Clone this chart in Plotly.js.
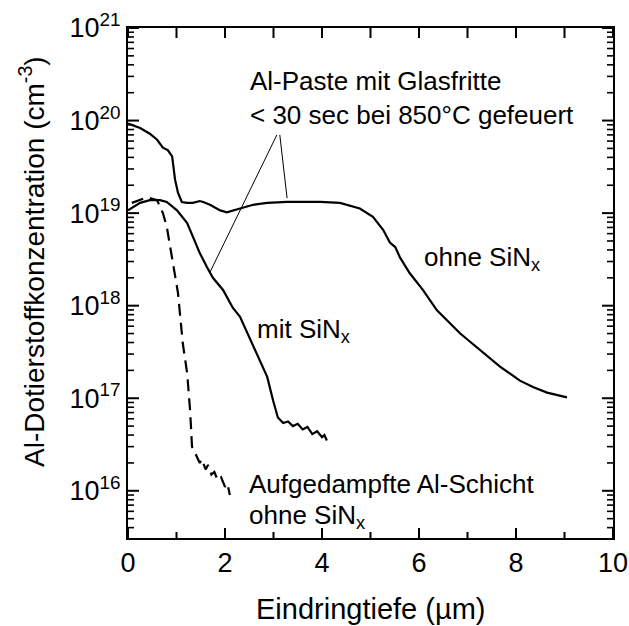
<!DOCTYPE html>
<html>
<head>
<meta charset="utf-8">
<script src="https://cdn.plot.ly/plotly-3.0.1.min.js"></script>
<style>html,body{margin:0;padding:0;background:#fff;}#chart{width:629px;height:626px;}</style>
</head>
<body>
<div id="chart"></div>
<script>
// depth (µm) and Al concentration (cm^-3)
const ohneX = [0,0.25,0.45,0.60,0.72,0.82,0.91,0.93,0.97,1.03,1.11,1.22,1.34,1.48,1.55,1.69,1.90,2.04,2.16,2.31,2.58,2.87,3.28,3.55,3.96,4.37,4.78,5.05,5.26,5.40,5.51,5.61,5.81,6.08,6.37,6.85,7.26,7.67,8.08,8.35,8.64,9.05];
const ohneY = [9.3e19,8.3e19,7.2e19,6.2e19,5.1e19,4.8e19,4.1e19,3.2e19,2.3e19,1.66e19,1.32e19,1.29e19,1.29e19,1.35e19,1.32e19,1.23e19,1.07e19,1.02e19,1.07e19,1.12e19,1.23e19,1.29e19,1.32e19,1.32e19,1.32e19,1.29e19,1.12e19,9.1e18,6.6e18,4.8e18,4.3e18,3.3e18,2.24e18,1.48e18,8.9e17,5.0e17,3.3e17,2.2e17,1.55e17,1.32e17,1.15e17,1.02e17];

const mitX = [0,0.25,0.45,0.66,0.80,1.01,1.22,1.34,1.48,1.63,1.75,1.96,2.16,2.31,2.52,2.72,2.87,2.99,3.09,3.20,3.30,3.40,3.50,3.60,3.70,3.80,3.90,4.00,4.05,4.10];
const mitY = [1.07e19,1.29e19,1.38e19,1.38e19,1.32e19,1.07e19,7.8e18,5.5e18,3.7e18,2.6e18,2.0e18,1.48e18,9.5e17,7.6e17,4.3e17,2.6e17,1.7e17,9.5e16,6.2e16,5.4e16,5.6e16,5.0e16,5.3e16,4.6e16,4.9e16,4.1e16,4.4e16,3.8e16,4.0e16,3.5e16];

const aufX = [0.08,0.39,0.60,0.72,0.80,0.87,0.93,1.03,1.07,1.13,1.22,1.28,1.32,1.40,1.48,1.52,1.60,1.65,1.72,1.78,1.85,1.92,2.00,2.05,2.10];
const aufY = [1.29e19,1.48e19,1.38e19,1.0e19,7.1e18,4.3e18,2.6e18,1.38e18,8.3e17,3.9e17,1.86e17,7.4e16,3.0e16,2.4e16,2.0e16,2.2e16,1.7e16,1.9e16,1.5e16,1.6e16,1.3e16,1.4e16,1.1e16,1.2e16,0.9e16];

// pointer lines from the annotation text to the curves
const ptrAX = [3.07,1.69];
const ptrAY = [7.0e19,2.3e18];
const ptrBX = [3.13,3.28];
const ptrBY = [7.0e19,1.45e19];

// tick positions and labels
const xMajor = [0,2,4,6,8,10];
const xMinor = [1,3,5,7,9];
const yMajor = [1e16,1e17,1e18,1e19,1e20,1e21];
const yMajorText = ['10<sup>16</sup>','10<sup>17</sup>','10<sup>18</sup>','10<sup>19</sup>','10<sup>20</sup>','10<sup>21</sup>'];
const yMinorFactors = [2,3,4,5,6,7,8,9];

const X_RANGE = [0,10];
const Y_RANGE = [15.49,21];

const FONT = 'Liberation Sans, Arial, sans-serif';
const lineStyle = {color:'#000', width:2.2};

// plot area in pixels: x 128..613 (485px), y 28..538 (510px)
const PW = 485, PH = 510;
function px(p){ return (p-128)/PW; }
function py(p){ return (538-p)/PH; }

// tick marks drawn through the axes' own scales (inside, mirrored top/right)
function drawTicks(gd){
  const fl = gd._fullLayout;
  const xa = fl.xaxis, ya = fl.yaxis;
  const L = fl._size.l, T = fl._size.t, W = fl._size.w, H = fl._size.h;
  const ns = 'http://www.w3.org/2000/svg';
  const svgs = gd.querySelectorAll('svg.main-svg');
  const svg = svgs[svgs.length-1];
  const g = document.createElementNS(ns, 'g');
  function ln(x1,y1,x2,y2,w){
    const e = document.createElementNS(ns, 'line');
    e.setAttribute('x1',x1); e.setAttribute('y1',y1); e.setAttribute('x2',x2); e.setAttribute('y2',y2);
    e.setAttribute('stroke','#000'); e.setAttribute('stroke-width',w);
    g.appendChild(e);
  }
  function xp(v){ return L + xa.l2p(v); }
  function yp(v){ return T + ya.l2p(Math.log10(v)); }
  xMajor.forEach(function(v){ const x=xp(v); ln(x,T+H,x,T+H-10,2); ln(x,T,x,T+10,2); });
  xMinor.forEach(function(v){ const x=xp(v); ln(x,T+H,x,T+H-6,2); ln(x,T,x,T+10,2); });
  yMajor.forEach(function(v){
    const lv = Math.log10(v);
    if (lv>=Y_RANGE[0] && lv<=Y_RANGE[1]){ const y=yp(v); ln(L,y,L+11,y,2); ln(L+W,y,L+W-11,y,2); }
    yMinorFactors.forEach(function(k){
      const m=v/10*k, lm=Math.log10(m);
      if (lm>=Y_RANGE[0] && lm<=Y_RANGE[1]){ const y=yp(m); ln(L,y,L+6,y,1.6); ln(L+W,y,L+W-6,y,1.6); }
    });
  });
  svg.appendChild(g);
}

const traces = [
  {x:ohneX, y:ohneY, mode:'lines', line:lineStyle, hoverinfo:'skip'},
  {x:mitX, y:mitY, mode:'lines', line:lineStyle, hoverinfo:'skip'},
  {x:aufX, y:aufY, mode:'lines', line:{color:'#000', width:2.2, dash:'12px,7px'}, hoverinfo:'skip'},
  {x:ptrAX, y:ptrAY, mode:'lines', line:{color:'#000', width:1}, hoverinfo:'skip'},
  {x:ptrBX, y:ptrBY, mode:'lines', line:{color:'#000', width:1}, hoverinfo:'skip'}
];

function ann(x, y, text, size, anchor){
  return {xref:'paper', yref:'paper', x:x, y:y, text:text, showarrow:false,
          xanchor:anchor||'left', yanchor:'middle', font:{family:FONT, size:size||26, color:'#000'}};
}

const layout = {
  width:629, height:626,
  margin:{l:128, r:16, t:28, b:88},
  paper_bgcolor:'#fff', plot_bgcolor:'#fff',
  showlegend:false,
  font:{family:FONT, color:'#000'},
  xaxis:{
    range:X_RANGE, tickmode:'array', tickvals:xMajor, ticktext:xMajor.map(String),
    ticks:'', showgrid:false, zeroline:false,
    showline:true, linewidth:2, linecolor:'#000', mirror:true,
    tickfont:{family:FONT, size:27, color:'#000'}
  },
  yaxis:{
    type:'log', range:Y_RANGE, tickmode:'array', tickvals:yMajor, ticktext:yMajorText,
    ticks:'', showgrid:false, zeroline:false,
    showline:true, linewidth:2, linecolor:'#000', mirror:true,
    tickfont:{family:FONT, size:27, color:'#000'}
  },
  annotations:[
    ann(px(248), py(81), 'Al-Paste mit Glasfritte'),
    ann(px(248), py(115), '&lt; 30 sec bei 850°C gefeuert'),
    ann(px(422), py(258), 'ohne SiN<sub>x</sub>'),
    ann(px(255), py(330), 'mit SiN<sub>x</sub>'),
    ann(px(247), py(484), 'Aufgedampfte Al-Schicht'),
    ann(px(247), py(516), 'ohne SiN<sub>x</sub>'),
    ann(0.5, py(609), 'Eindringtiefe (µm)', 29, 'center'),
    {xref:'paper', yref:'paper', x:-96/PW, y:py(262), text:'Al-Dotierstoffkonzentration (cm<sup>-3</sup>)',
     textangle:-90, showarrow:false, xanchor:'center', yanchor:'middle',
     font:{family:FONT, size:28, color:'#000'}}
  ]
};

Plotly.newPlot('chart', traces, layout, {displayModeBar:false, staticPlot:true}).then(function(gd){
  drawTicks(gd);
});
</script>
</body>
</html>
